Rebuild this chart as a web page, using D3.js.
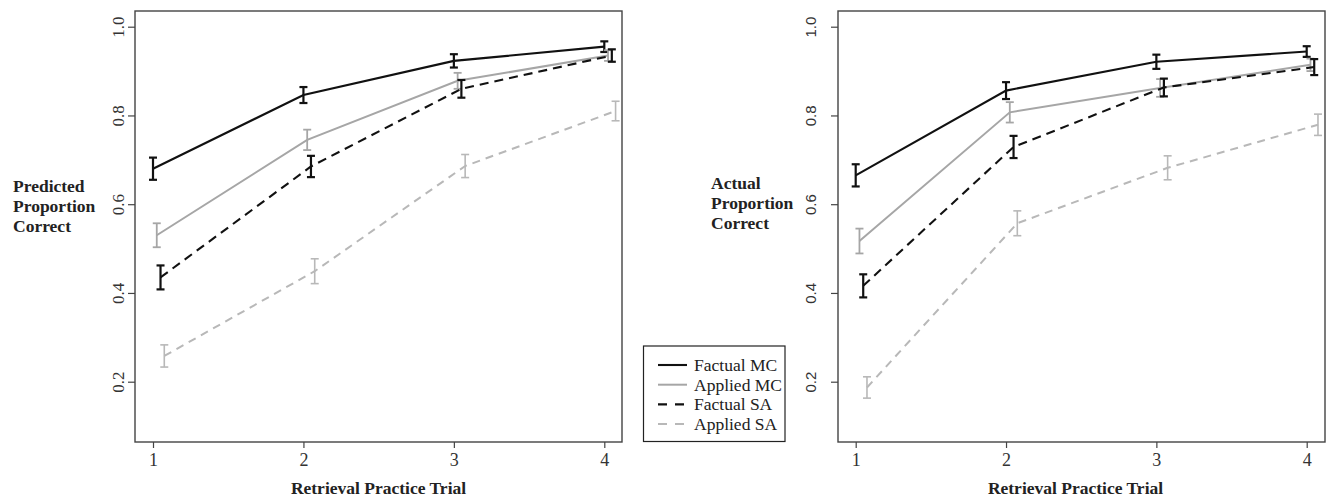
<!DOCTYPE html>
<html>
<head>
<meta charset="utf-8">
<script src="https://cdn.jsdelivr.net/npm/d3@7/dist/d3.min.js"></script>
<style>
  html, body { margin: 0; padding: 0; background: #fff; }
  svg { display: block; }
</style>
</head>
<body>
<svg id="chart" width="1327" height="497"></svg>
<script>
// Retrieval practice trials on the x axis
const trials = [1, 2, 3, 4];
const seriesNames = ["Factual MC", "Applied MC", "Factual SA", "Applied SA"];
const yTicks = [0.2, 0.4, 0.6, 0.8, 1.0];

// Horizontal offset per series so error bars do not overlap
const dodge = [0, 0.025, 0.05, 0.075];

// Predicted proportion correct (rows follow seriesNames)
const predictedMean = [
  [0.680, 0.846, 0.923, 0.955],
  [0.530, 0.745, 0.878, 0.935],
  [0.435, 0.685, 0.860, 0.935],
  [0.258, 0.449, 0.686, 0.810]
];
const predictedErr = [
  [0.025, 0.018, 0.015, 0.012],
  [0.027, 0.023, 0.018, 0.012],
  [0.027, 0.024, 0.020, 0.014],
  [0.025, 0.028, 0.026, 0.022]
];

// Actual proportion correct
const actualMean = [
  [0.665, 0.856, 0.921, 0.944],
  [0.517, 0.807, 0.862, 0.914],
  [0.416, 0.729, 0.863, 0.909],
  [0.187, 0.557, 0.682, 0.779]
];
const actualErr = [
  [0.025, 0.019, 0.016, 0.012],
  [0.028, 0.023, 0.020, 0.014],
  [0.026, 0.025, 0.020, 0.018],
  [0.024, 0.028, 0.027, 0.024]
];

// Line styling per series
const styles = [
  { color: "#111", width: 2.1, dash: null, barWidth: 2.2, legendDash: null },
  { color: "#a6a6a6", width: 2, dash: null, barWidth: 1.8, legendDash: null },
  { color: "#111", width: 2.1, dash: "9,6", barWidth: 2.2, legendDash: "9,8" },
  { color: "#b8b8b8", width: 2, dash: "8,6", barWidth: 1.6, legendDash: "9,8" }
];

const svg = d3.select("#chart");
const serif = "'Liberation Serif', 'Times New Roman', serif";
const sans = "'Liberation Sans', Arial, sans-serif";

function drawPanel(opt) {
  const g = svg.append("g");
  const x = d3.scaleLinear().domain([1, 4]).range([opt.xStart, opt.xEnd]);
  const y = d3.scaleLinear().domain([0.2, 1.0]).range([381.7, 26.7]);

  // Plot frame
  g.append("rect")
    .attr("x", opt.boxLeft).attr("y", 11)
    .attr("width", opt.boxRight - opt.boxLeft).attr("height", 442 - 11)
    .attr("fill", "none").attr("stroke", "#444").attr("stroke-width", 1.4);

  // Y axis with rotated tick labels
  const yAxis = g.append("g")
    .attr("transform", `translate(${opt.boxLeft},0)`)
    .call(d3.axisLeft(y).tickValues(yTicks).tickFormat(d3.format(".1f")).tickSize(7).tickPadding(0));
  yAxis.select(".domain").remove();
  yAxis.selectAll(".tick line").attr("stroke", "#444").attr("stroke-width", 1.2);
  yAxis.selectAll(".tick text")
    .attr("transform", "rotate(-90)")
    .attr("x", 0).attr("y", opt.yTickOffset)
    .attr("dy", "0")
    .attr("text-anchor", "middle")
    .attr("font-family", opt.yTickFont)
    .attr("font-size", opt.yTickSize)
    .attr("fill", "#333");

  // X axis
  const xAxis = g.append("g")
    .attr("transform", "translate(0,442)")
    .call(d3.axisBottom(x).tickValues(trials).tickFormat(d3.format("d")).tickSize(6).tickPadding(5));
  xAxis.select(".domain").remove();
  xAxis.selectAll(".tick line").attr("stroke", "#444").attr("stroke-width", 1.2);
  xAxis.selectAll(".tick text")
    .attr("font-family", serif).attr("font-size", 18).attr("fill", "#333");

  // Axis titles
  g.append("text")
    .attr("x", (opt.boxLeft + opt.boxRight) / 2 + opt.xTitleShift).attr("y", 494)
    .attr("text-anchor", "middle")
    .attr("font-family", serif).attr("font-weight", "bold").attr("font-size", 17.5)
    .attr("fill", "#222")
    .text("Retrieval Practice Trial");

  const yl = g.append("text")
    .attr("font-family", serif).attr("font-weight", "bold").attr("font-size", 17.5)
    .attr("fill", "#222");
  opt.yLabel.forEach((line, i) => {
    yl.append("tspan").attr("x", opt.yLabelX).attr("y", opt.yLabelY + i * 20).text(line);
  });

  // Series lines with error bars
  const line = d3.line().x(d => d.x).y(d => d.y);
  opt.means.forEach((row, s) => {
    const pts = row.map((v, i) => ({
      x: x(trials[i] + dodge[s]),
      y: y(v),
      lo: y(v - opt.errs[s][i]),
      hi: y(v + opt.errs[s][i])
    }));
    const st = styles[s];
    g.append("path")
      .attr("d", line(pts))
      .attr("fill", "none")
      .attr("stroke", st.color)
      .attr("stroke-width", st.width)
      .attr("stroke-dasharray", st.dash);

    const bars = g.append("g").attr("stroke", st.color).attr("stroke-width", st.barWidth);
    pts.forEach(p => {
      bars.append("line").attr("x1", p.x).attr("x2", p.x).attr("y1", p.lo).attr("y2", p.hi);
      bars.append("line").attr("x1", p.x - 4).attr("x2", p.x + 4).attr("y1", p.lo).attr("y2", p.lo);
      bars.append("line").attr("x1", p.x - 4).attr("x2", p.x + 4).attr("y1", p.hi).attr("y2", p.hi);
    });
  });
}

drawPanel({
  boxLeft: 135, boxRight: 622, xStart: 153, xEnd: 604.3,
  means: predictedMean, errs: predictedErr,
  yLabel: ["Predicted", "Proportion", "Correct"], yLabelX: 13, yLabelY: 192,
  yTickFont: serif, yTickSize: 17, yTickOffset: -11, xTitleShift: 0
});

drawPanel({
  boxLeft: 838, boxRight: 1325, xStart: 855.7, xEnd: 1306.7,
  means: actualMean, errs: actualErr,
  yLabel: ["Actual", "Proportion", "Correct"], yLabelX: 711, yLabelY: 189,
  yTickFont: sans, yTickSize: 15, yTickOffset: -22, xTitleShift: -6
});

// Legend between the panels
const legend = svg.append("g");
legend.append("rect")
  .attr("x", 643.5).attr("y", 346).attr("width", 141.5).attr("height", 95.5)
  .attr("fill", "#fff").attr("stroke", "#222").attr("stroke-width", 1.2);
seriesNames.forEach((name, i) => {
  const yy = 365 + i * 19.7;
  const st = styles[i];
  legend.append("line")
    .attr("x1", 658).attr("x2", st.legendDash ? 684 : 687).attr("y1", yy).attr("y2", yy)
    .attr("stroke", st.color).attr("stroke-width", st.width)
    .attr("stroke-dasharray", st.legendDash);
  legend.append("text")
    .attr("x", 694).attr("y", yy + 6)
    .attr("font-family", serif).attr("font-size", 17.5).attr("fill", "#222")
    .text(name);
});
</script>
</body>
</html>
